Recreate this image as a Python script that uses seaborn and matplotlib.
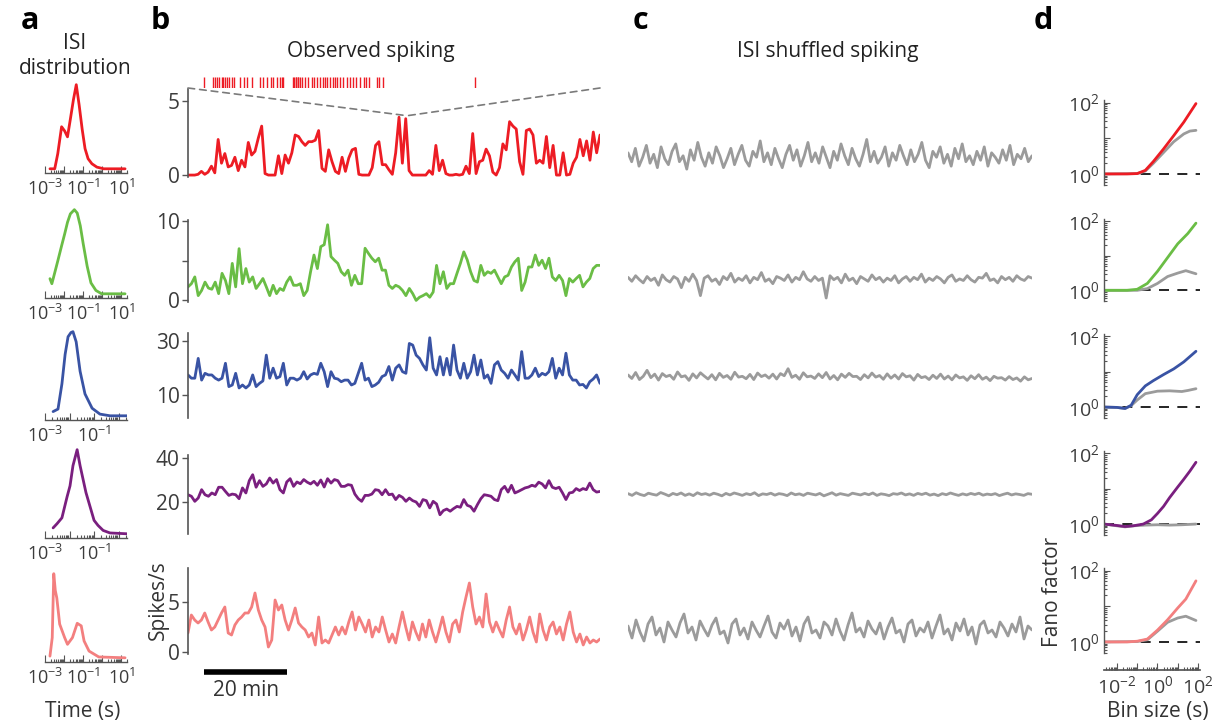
import numpy as np
import matplotlib
matplotlib.use('Agg')
import matplotlib.pyplot as plt
import seaborn as sns
from matplotlib.patches import ConnectionPatch
from matplotlib.ticker import LogLocator, NullFormatter, NullLocator

# ---------------- data ----------------
# panel b: observed firing rate (spikes/s), evenly sampled over ~100 min
obs_red = [0.0, 0.0, 0.0, 0.05, 0.25, 0.05, 0.2, 0.6, 0.15, 2.4,
           0.8, 1.45, 0.55, 0.65, 1.2, 0.3, 1.0, 0.55, 2.2, 1.35,
           1.6, 2.5, 3.3, 0.1, 0.0, 0.0, 0.0, 1.3, 0.1, 1.35,
           0.8, 1.5, 2.7, 2.6, 2.25, 2.0, 2.25, 2.25, 2.35, 3.0,
           0.45, 0.25, 1.7, 0.9, 0.25, 0.1, 1.2, 0.25, 1.15, 1.7,
           1.8, 0.05, 0.0, 0.0, 0.0, 0.5, 2.0, 2.25, 0.7, 0.7,
           0.35, 0.05, 1.5, 3.9, 0.8, 3.8, 0.3, 0.0, 0.0, 0.0,
           0.0, 0.0, 0.3, 0.05, 2.0, 0.3, 1.0, 0.1, 0.0, 0.0,
           0.05, 0.0, 0.05, 0.6, 0.1, 2.8, 0.1, 0.9, 1.0, 1.75,
           1.3, 0.2, 0.0, 0.5, 2.1, 1.7, 3.6, 3.3, 3.1, 0.9,
           0.05, 3.0, 3.1, 2.7, 0.8, 1.0, 0.8, 2.6, 0.5, 2.0,
           0.0, 0.0, 1.5, 0.0, 0.05, 0.8, 1.2, 2.4, 1.3, 2.3,
           1.0, 2.9, 1.5, 2.7]
obs_green = [1.7, 2.1, 2.95, 0.6, 1.25, 2.3, 1.55, 1.4, 2.3, 0.85,
             3.4, 2.5, 0.85, 4.65, 1.7, 6.5, 2.1, 4.0, 2.3, 2.95,
             1.5, 2.1, 2.75, 1.7, 0.6, 1.9, 0.85, 1.5, 1.25, 2.3,
             2.95, 1.9, 1.9, 2.1, 0.6, 1.25, 3.6, 5.7, 4.0, 6.75,
             7.0, 9.5, 5.5, 5.05, 4.65, 3.6, 3.15, 3.8, 1.9, 3.15,
             2.1, 2.1, 6.55, 5.9, 5.3, 4.85, 5.3, 3.8, 3.8, 1.9,
             1.5, 1.9, 1.7, 1.25, 0.6, 1.5, 0.85, 0.0, 0.4, 0.6,
             0.85, 0.4, 1.05, 4.4, 2.1, 3.6, 1.5, 2.1, 2.1, 3.4,
             4.65, 6.1, 5.1, 3.6, 2.5, 2.3, 4.4, 3.15, 3.6, 3.4,
             3.8, 2.95, 2.1, 2.95, 3.15, 4.2, 4.85, 5.3, 1.25, 2.3,
             4.2, 4.2, 5.7, 4.4, 5.05, 4.0, 5.3, 2.95, 2.5, 3.15,
             2.5, 0.6, 2.75, 2.3, 2.75, 3.15, 1.7, 2.3, 2.75, 4.0,
             4.4, 4.4]
obs_blue = [17.5, 16.3, 16.3, 23.6, 15.6, 18.1, 17.5, 17.5, 16.3, 15.6,
            16.3, 21.8, 13.2, 13.8, 18.1, 12.7, 13.8, 12.7, 13.8, 17.5,
            13.2, 14.4, 15.3, 24.8, 16.3, 20.0, 16.3, 16.9, 21.8, 13.8,
            16.3, 16.3, 15.6, 16.3, 18.7, 16.0, 17.5, 18.1, 17.7, 21.8,
            18.7, 13.2, 18.7, 16.3, 16.0, 15.0, 15.6, 15.6, 13.8, 14.4,
            18.1, 21.8, 15.6, 16.3, 13.2, 13.8, 14.8, 16.9, 17.5, 20.6,
            15.6, 20.0, 21.2, 18.7, 18.1, 29.1, 28.5, 24.8, 23.6, 21.2,
            19.3, 31.2, 20.0, 17.5, 24.2, 17.5, 23.6, 17.5, 28.5, 19.3,
            16.3, 21.8, 16.3, 18.7, 24.8, 17.5, 23.0, 16.3, 17.5, 14.4,
            21.2, 22.4, 19.3, 18.1, 16.3, 19.3, 17.5, 15.6, 26.1, 16.3,
            16.3, 17.5, 20.0, 16.9, 18.1, 17.5, 18.7, 23.6, 16.3, 20.0,
            17.5, 25.5, 17.5, 15.6, 15.6, 13.8, 14.0, 12.7, 15.0, 16.0,
            17.5, 14.4]
obs_purple = [23.3, 22.6, 20.3, 21.8, 25.6, 23.3, 22.6, 24.1, 23.3, 26.7,
              26.7, 24.8, 23.0, 23.6, 23.3, 21.5, 26.4, 24.1, 29.7, 32.4,
              26.7, 29.7, 27.1, 28.2, 30.9, 28.6, 30.2, 25.6, 24.1, 29.1,
              30.6, 27.1, 29.1, 28.3, 30.2, 29.0, 28.2, 29.4, 27.6, 30.0,
              26.8, 30.6, 28.6, 30.2, 29.7, 27.1, 27.1, 27.9, 27.6, 23.6,
              21.5, 20.3, 23.0, 23.0, 23.6, 25.6, 25.3, 23.3, 25.6, 23.3,
              23.6, 21.1, 23.0, 22.1, 20.3, 21.8, 20.6, 20.0, 18.0, 21.1,
              20.6, 17.3, 20.3, 19.1, 14.2, 16.1, 16.8, 15.8, 17.0, 18.0,
              17.6, 21.1, 18.5, 17.9, 15.8, 18.8, 21.5, 23.3, 23.0, 22.6,
              21.1, 20.6, 25.6, 27.1, 24.5, 27.6, 24.1, 24.8, 25.6, 26.4,
              26.8, 27.6, 27.1, 29.0, 28.2, 26.4, 29.7, 26.7, 26.1, 26.7,
              24.1, 21.1, 24.1, 24.4, 26.1, 25.2, 26.1, 25.6, 28.6, 25.6,
              24.5, 24.8]
obs_pink = [1.9, 3.7, 3.2, 2.9, 3.2, 3.9, 3.0, 2.2, 2.5, 3.2,
            3.9, 4.5, 1.9, 1.7, 2.7, 3.2, 3.5, 3.9, 3.9, 4.5,
            5.9, 4.2, 3.2, 2.5, 0.5, 1.2, 5.2, 4.2, 4.7, 3.2,
            2.2, 3.2, 4.4, 2.9, 2.5, 2.2, 1.5, 1.9, 0.7, 3.5,
            0.9, 1.2, 0.9, 1.7, 2.5, 1.7,
            2.5, 1.8, 3.0, 4.0, 2.2, 3.5, 2.8, 2.0, 3.2, 1.5,
            2.5, 2.0, 3.5, 2.2, 1.0, 1.8, 0.9, 2.5, 4.0, 2.5,
            1.2, 3.0, 2.0, 1.2, 2.8, 1.5, 3.2, 2.0, 1.0, 2.2,
            3.5, 2.0, 1.0, 2.8, 3.2, 2.0, 4.0, 5.5, 6.9, 4.5,
            2.8, 3.5, 2.5, 5.8, 3.0, 2.0, 3.0, 2.2, 1.5, 3.2,
            4.5, 2.5, 1.8, 2.8, 1.2, 2.2, 3.5, 2.0, 1.0, 3.8,
            2.2, 1.2, 2.5, 3.0, 1.8, 2.5, 1.2, 2.8, 4.0, 2.0,
            1.0, 1.8, 0.7, 1.5, 0.9, 1.2, 1.0, 1.3]

# panel c: ISI shuffled firing rate (spikes/s)
shuf_1 = [1.5, 0.9, 1.8, 0.6, 1.2, 2.0, 0.8, 1.4, 0.5, 1.9, 1.1, 0.7, 1.6, 2.1, 0.9, 1.3,
          0.4, 1.7, 1.0, 2.2, 1.2, 0.6, 1.5, 0.8, 1.9, 1.3, 0.5, 1.1, 1.8, 0.7, 1.4, 2.0,
          1.0, 0.6, 1.6, 1.2, 2.3, 0.9, 1.5, 0.7, 1.8, 1.1, 0.5, 1.4, 2.0, 1.0, 1.7, 0.6,
          1.3, 2.2, 0.9, 1.5, 0.8, 1.9, 1.2, 0.5, 1.6, 1.0, 2.1, 1.3, 0.7, 1.8, 1.1, 0.6,
          1.4, 2.4, 0.9, 1.6, 0.8, 1.2, 1.9, 0.6, 1.5, 1.0, 2.0, 1.3, 0.7, 1.7, 0.9, 1.4,
          2.2, 1.0, 0.5, 1.6, 1.2, 1.9, 0.8, 1.4, 0.6, 1.8, 1.1, 2.1, 0.9, 1.3, 0.7, 1.6,
          1.0, 1.9, 0.6, 1.5, 1.2, 0.8, 1.7, 1.0, 2.0, 0.7, 1.4, 1.1, 1.8, 0.9, 1.3]
shuf_2 = [2.9, 2.4, 3.1, 2.6, 2.2, 3.0, 2.5, 2.8, 1.9, 3.2, 2.6, 2.3, 3.0, 2.7, 1.6, 2.9,
          2.4, 3.3, 2.5, 0.6, 2.8, 3.1, 2.4, 2.7, 2.0, 3.0, 2.6, 3.4, 2.3, 2.8, 2.5, 3.1,
          2.2, 2.9, 2.6, 3.5, 2.4, 2.7, 2.1, 3.0, 2.8, 2.5, 3.2, 2.3, 2.9, 2.6, 3.6, 2.7,
          2.4, 3.0, 2.5, 2.8, 0.3, 3.1, 2.6, 2.9, 2.2, 3.3, 2.5, 2.8, 2.1, 3.0, 2.7, 2.4,
          3.2, 2.6, 2.9, 2.3, 2.8, 2.5, 3.1, 2.2, 2.7, 3.0, 2.4, 2.9, 2.6, 3.3, 2.3, 2.8,
          2.5, 3.0, 2.7, 2.2, 2.9, 3.2, 2.4, 2.7, 2.5, 3.1, 2.6, 2.3, 2.9, 2.8, 3.4, 2.5,
          2.7, 2.2, 3.0, 2.6, 2.9, 2.4, 3.1, 2.7, 2.5, 3.0, 2.8]
shuf_3 = [17.5, 16.2, 18.4, 15.8, 17.0, 19.2, 16.5, 17.8, 15.6, 18.0, 16.9, 17.4, 15.9, 18.6,
          16.8, 17.2, 15.5, 17.9, 16.4, 18.3, 17.1, 16.0, 17.6, 15.7, 18.1, 16.6, 17.3, 15.9,
          18.5, 16.7, 17.0, 16.1, 17.7, 15.8, 18.2, 16.9, 17.5, 16.3, 17.8, 16.0, 18.0, 17.2,
          19.8, 16.6, 17.4, 15.9, 18.3, 16.8, 17.1, 16.2, 17.9, 16.5, 18.4, 16.0, 17.3, 15.7,
          17.8, 16.6, 18.1, 16.9, 17.0, 15.8, 17.6, 16.4, 18.2, 16.7, 17.3, 15.9, 17.9, 16.3,
          17.5, 16.0, 18.0, 16.8, 17.2, 15.6, 17.7, 16.5, 16.9, 15.8, 17.4, 16.2, 17.8, 16.0,
          17.1, 15.7, 17.5, 16.4, 16.8, 15.5, 17.2, 16.1, 17.6, 15.9, 16.7, 15.4, 17.0, 16.3,
          16.5, 15.6, 16.9, 15.8, 16.4, 15.2, 16.8, 15.7, 16.2]
shuf_4 = [23.8, 23.0, 24.2, 23.4, 22.9, 24.0, 23.5, 23.1, 24.3, 23.6, 22.8, 23.9, 23.3, 24.1,
          23.0, 23.7, 22.9, 24.2, 23.4, 23.8, 23.1, 24.0, 23.5, 22.8, 23.9, 23.2, 24.1, 23.6,
          23.0, 23.8, 23.3, 24.2, 22.9, 23.7, 23.4, 24.0, 23.1, 23.8, 23.5, 22.9, 24.1, 23.3,
          23.7, 23.0, 24.0, 23.6, 23.2, 23.9, 22.8, 23.5, 24.2, 23.1, 23.8, 23.4, 23.0, 24.0,
          23.6, 23.2, 23.9, 23.3, 24.1, 23.0, 23.7, 23.4, 22.9, 23.8, 23.5, 24.1, 23.2, 23.7,
          23.0, 23.9, 23.4, 24.0, 23.1, 23.6, 22.9, 23.8, 23.3, 24.1, 23.5, 23.0, 23.7, 23.2,
          23.9, 23.4, 24.0, 23.1, 23.6, 23.3, 23.8, 22.9, 23.5, 24.0, 23.2, 23.7, 23.4, 23.0,
          23.8, 23.5]
shuf_5 = [2.6, 1.4, 3.2, 2.0, 1.1, 2.8, 3.5, 1.7, 2.4, 1.0, 3.0, 2.2, 1.5, 2.9, 3.8, 1.9,
          2.5, 1.2, 3.1, 2.3, 1.6, 2.7, 3.4, 1.8, 2.1, 0.9, 2.8, 3.3, 1.7, 2.4, 1.3, 3.0,
          2.2, 1.5, 2.6, 3.6, 2.0, 1.4, 2.9, 2.3, 3.2, 1.6, 2.5, 1.1, 2.8, 3.5, 1.9, 2.2,
          1.4, 3.0, 2.6, 1.7, 3.3, 2.1, 1.2, 2.7, 3.9, 2.0, 2.4, 1.5, 3.1, 2.3, 1.8, 2.9,
          1.3, 2.5, 3.4, 1.9, 2.2, 1.0, 2.8, 3.2, 1.6, 2.4, 2.0, 3.0, 1.4, 2.6, 3.7, 1.8,
          2.3, 1.2, 2.9, 2.1, 3.3, 1.7, 2.5, 0.8, 2.7, 3.1, 1.9, 2.2, 1.5, 3.0, 2.4, 1.6,
          2.8, 2.0, 3.5, 1.3, 2.6, 2.2]

# spike raster above the red trace (s, within a 10 s window)
raster_times = [0.40, 0.61, 0.66, 0.70, 0.76, 0.82, 0.86, 0.90, 0.95, 1.00, 1.06, 1.12,
                1.25, 1.36, 1.44, 1.55, 1.75, 1.81, 1.91, 2.01, 2.07, 2.15, 2.23, 2.27,
                2.31, 2.56, 2.58, 2.61, 2.63, 2.66, 2.68, 2.71, 2.76, 2.84, 2.92, 3.00,
                3.06, 3.12, 3.20, 3.27, 3.32, 3.38, 3.45, 3.51, 3.57, 3.62, 3.69, 3.75,
                3.85, 3.92, 4.00, 4.08, 4.17, 4.27, 4.33, 4.39, 4.59, 4.64, 4.73, 6.97]
zoom_t, zoom_rate = 53.2, 4.0   # where the raster window sits in the red trace

# panel a: ISI distributions (log10 interval in s, normalised density)
isi_logt = [
    [-2.74, -2.49, -2.33, -2.13, -1.97, -1.82, -1.67, -1.51, -1.36, -1.21, -1.05, -0.9, -0.74, -0.54, -0.28, 0.08, 1.2],
    [-2.74, -2.64, -2.49, -2.33, -2.13, -1.97, -1.82, -1.67, -1.46, -1.31, -1.15, -1.0, -0.79, -0.59, -0.33, -0.03, 1.2],
    [-2.67, -2.47, -2.31, -2.18, -2.06, -1.94, -1.86, -1.73, -1.57, -1.37, -1.08, -0.76, -0.35, 0.35],
    [-2.67, -2.51, -2.31, -2.1, -1.98, -1.86, -1.69, -1.57, -1.45, -1.33, -1.16, -1.0, -0.84, -0.63, -0.35, 0.35],
    [-2.74, -2.62, -2.54, -2.46, -2.38, -2.23, -1.97, -1.82, -1.56, -1.31, -1.1, -0.95, -0.69, -0.18, 1.2],
]
isi_density = [
    [0.0, 0.0, 0.18, 0.5, 0.45, 0.38, 0.59, 0.82, 1.0, 0.76, 0.47, 0.24, 0.12, 0.06, 0.02, 0.0, 0.0],
    [0.18, 0.12, 0.25, 0.39, 0.57, 0.71, 0.85, 0.95, 1.0, 0.96, 0.81, 0.6, 0.33, 0.13, 0.04, 0.0, 0.0],
    [0.05, 0.08, 0.38, 0.73, 0.94, 0.99, 1.0, 0.88, 0.53, 0.26, 0.09, 0.02, 0.0, 0.0],
    [0.07, 0.12, 0.19, 0.44, 0.57, 0.81, 1.0, 0.81, 0.65, 0.49, 0.32, 0.16, 0.1, 0.04, 0.01, 0.0],
    [0.02, 0.24, 1.0, 0.8, 0.71, 0.4, 0.24, 0.16, 0.24, 0.41, 0.38, 0.2, 0.08, 0.01, 0.0],
]
isi_xmax = [20, 20, 2.2, 2.2, 20]

# panel d: Fano factor vs bin size (log10 bin size, log10 Fano factor)
fano_obs_logbin = [
    [-2.64, -1.5, -1.0, -0.6, -0.2, 0.3, 0.8, 1.3, 1.9],
    [-2.64, -1.5, -1.0, -0.5, 0.0, 0.5, 1.0, 1.5, 1.9],
    [-2.64, -2.0, -1.6, -1.3, -1.0, -0.6, -0.2, 0.3, 0.8, 1.3, 1.9],
    [-2.64, -2.0, -1.6, -1.2, -0.7, -0.3, 0.0, 0.3, 0.6, 1.0, 1.3, 1.6, 1.9],
    [-2.64, -1.5, -1.0, -0.5, 0.0, 0.5, 1.0, 1.4, 1.9],
]
fano_obs_logff = [
    [0.0, 0.0, 0.01, 0.1, 0.35, 0.7, 1.07, 1.45, 1.97],
    [0.0, 0.0, 0.03, 0.2, 0.55, 0.95, 1.35, 1.65, 1.95],
    [0.0, -0.01, -0.04, 0.05, 0.35, 0.6, 0.75, 0.92, 1.08, 1.28, 1.58],
    [0.0, -0.04, -0.07, -0.05, 0.0, 0.12, 0.3, 0.5, 0.75, 1.05, 1.27, 1.5, 1.75],
    [0.0, 0.0, 0.02, 0.08, 0.33, 0.62, 0.95, 1.2, 1.71],
]
fano_shuf_logbin = [
    [-2.64, -1.0, -0.6, -0.2, 0.3, 0.8, 1.3, 1.6, 1.9],
    [-2.64, -1.0, -0.5, 0.0, 0.5, 1.0, 1.4, 1.9],
    [-2.64, -2.0, -1.6, -1.3, -1.0, -0.6, 0.0, 0.6, 1.2, 1.5, 1.9],
    [-2.64, -2.0, -1.6, -1.2, -0.6, 0.0, 0.6, 1.2, 1.9],
    [-2.64, -1.0, -0.5, 0.0, 0.5, 1.0, 1.4, 1.9],
]
fano_shuf_logff = [
    [0.0, 0.01, 0.08, 0.3, 0.6, 0.9, 1.12, 1.2, 1.22],
    [0.0, 0.0, 0.05, 0.2, 0.4, 0.5, 0.57, 0.48],
    [0.0, -0.01, -0.04, 0.04, 0.2, 0.38, 0.45, 0.46, 0.44, 0.47, 0.52],
    [0.0, -0.05, -0.08, -0.05, -0.03, -0.02, -0.03, -0.02, 0.0],
    [0.0, 0.01, 0.06, 0.3, 0.55, 0.67, 0.72, 0.6],
]

colors = ['#ed1c24', '#6abd45', '#3953a4', '#7a1f7f', '#f37f7f']
shuf_gray = '#9b9b9b'
observed = [obs_red, obs_green, obs_blue, obs_purple, obs_pink]
shuffled = [shuf_1, shuf_2, shuf_3, shuf_4, shuf_5]

# ---------------- style ----------------
sns.set_theme(style='white')
plt.rcParams['font.family'] = ['Open Sans', 'DejaVu Sans']
plt.rcParams['mathtext.fontset'] = 'custom'
plt.rcParams['mathtext.rm'] = 'Open Sans'
plt.rcParams['mathtext.it'] = 'Open Sans:italic'
plt.rcParams['mathtext.bf'] = 'Open Sans:bold'
tick_col = '#3c3c3c'
spine_col = '#555555'

W, H = 1221, 727
fig = plt.figure(figsize=(W / 100, H / 100), dpi=100)


def add_ax(left, top, right, bottom):
    ax = fig.add_axes([left / W, 1 - bottom / H, (right - left) / W, (bottom - top) / H])
    ax.patch.set_alpha(0)
    for s in ax.spines.values():
        s.set_visible(False)
    return ax


def log_label(v):
    return '$10^{%d}$' % int(round(np.log10(v)))


# ---------------- panel a: ISI distributions ----------------
isi_bottoms = [173, 298, 420, 538, 662]
for i in range(5):
    ax = add_ax(45, isi_bottoms[i] - 90, 127, isi_bottoms[i])
    ax.set_xscale('log')
    sns.lineplot(x=10 ** np.array(isi_logt[i]), y=isi_density[i], ax=ax,
                 color=colors[i], linewidth=2, sort=False)
    ax.set_xlim(1e-3, isi_xmax[i])
    ax.set_ylim(-0.05, 1.02)
    ax.spines['bottom'].set_visible(True)
    ax.spines['bottom'].set_color(spine_col)
    ax.spines['bottom'].set_linewidth(1)
    decades = [d for d in [1e-3, 1e-2, 1e-1, 1, 10] if d <= isi_xmax[i]]
    labels = [log_label(d) if d in (1e-3, 1e-1, 10) else '' for d in decades]
    ax.set_xticks(decades, labels=labels)
    ax.xaxis.set_minor_locator(LogLocator(base=10, subs=np.arange(2, 10), numticks=20))
    ax.xaxis.set_minor_formatter(NullFormatter())
    ax.tick_params(axis='x', which='both', direction='in', bottom=True, colors=spine_col,
                   labelcolor=tick_col, labelsize=13, pad=4, width=0.8)
    ax.tick_params(axis='x', which='major', length=5)
    ax.tick_params(axis='x', which='minor', length=2.5)
    ax.set_yticks([])
    ax.set(xlabel='', ylabel='')

# ---------------- panel b: observed spiking ----------------
obs_rows = [(89, 177), (220, 302), (333, 418), (455, 534), (568, 654)]
obs_ylims = [(-0.13, 5.8), (-0.2, 10.1), (1.64, 32.95), (5.45, 41.36), (-0.2, 8.4)]
obs_ticks = [[0, 5], [0, 5, 10], [10, 30], [20, 40], [0, 5]]
obs_ticklabels = [['0', '5'], ['0', '', '10'], ['10', '30'], ['20', '40'], ['0', '5']]
obs_axes = []
for i in range(5):
    top, bottom = obs_rows[i]
    ax = add_ax(188, top, 600, bottom)
    t = np.linspace(0, 100, len(observed[i]))
    sns.lineplot(x=t, y=observed[i], ax=ax, color=colors[i], linewidth=2, sort=False)
    ax.set_xlim(0, 100)
    ax.set_ylim(*obs_ylims[i])
    ax.spines['left'].set_visible(True)
    ax.spines['left'].set_color(spine_col)
    ax.spines['left'].set_linewidth(1.2)
    ax.set_xticks([])
    ax.set_yticks(obs_ticks[i], labels=obs_ticklabels[i])
    ax.tick_params(axis='y', direction='out', left=True, length=4, width=1, colors=spine_col,
                   labelcolor=tick_col, labelsize=15, pad=2)
    ax.set(xlabel='', ylabel='')
    obs_axes.append(ax)

# raster and zoom lines
rax = add_ax(188, 77, 600, 88)
rax.vlines(raster_times, 0, 1, color=colors[0], linewidth=1)
rax.set_xlim(0, 10)
rax.set_ylim(0, 1)
rax.set_xticks([])
rax.set_yticks([])
for corner in [(0, 0), (1, 0)]:
    con = ConnectionPatch(xyA=corner, coordsA='axes fraction', axesA=rax,
                          xyB=(zoom_t, zoom_rate), coordsB='data', axesB=obs_axes[0],
                          linestyle=(0, (4, 3)), color='#7a7a7a', linewidth=1.2)
    fig.add_artist(con)

# scale bar (20 min)
scale_start, scale_len = 4, 20
pax = obs_axes[4]
pax.plot([scale_start, scale_start + scale_len], [-2.0, -2.0], color='black', linewidth=4,
         solid_capstyle='butt', clip_on=False)
pax.text(scale_start + scale_len / 2, -3.8, '20 min', ha='center', va='center',
         fontsize=15, color='#333333')

# ---------------- panel c: shuffled spiking ----------------
for i in range(5):
    top, bottom = obs_rows[i]
    ax = add_ax(628, top, 1032, bottom)
    t = np.linspace(0, 100, len(shuffled[i]))
    sns.lineplot(x=t, y=shuffled[i], ax=ax, color=shuf_gray, linewidth=2, sort=False)
    ax.set_xlim(0, 100)
    ax.set_ylim(*obs_ylims[i])
    ax.set_xticks([])
    ax.set_yticks([])
    ax.set(xlabel='', ylabel='')

# ---------------- panel d: Fano factor ----------------
fano_rows = [(100, 185), (219, 301), (334, 418), (451, 535), (568, 653)]
for i in range(5):
    top, bottom = fano_rows[i]
    ax = add_ax(1104, top, 1200, bottom)
    ax.set_xscale('log')
    ax.set_yscale('log')
    ax.axhline(1, color='black', linestyle=(0, (6, 5)), linewidth=1.2)
    sns.lineplot(x=10 ** np.array(fano_shuf_logbin[i]), y=10 ** np.array(fano_shuf_logff[i]),
                 ax=ax, color=shuf_gray, linewidth=2, sort=False)
    sns.lineplot(x=10 ** np.array(fano_obs_logbin[i]), y=10 ** np.array(fano_obs_logff[i]),
                 ax=ax, color=colors[i], linewidth=2, sort=False)
    ax.set_xlim(10 ** -2.64, 10 ** 2.1)
    ax.set_ylim(10 ** -0.31, 10 ** 2.07)
    ax.spines['left'].set_visible(True)
    ax.spines['left'].set_color(spine_col)
    ax.spines['left'].set_linewidth(1)
    ax.set_yticks([1, 10, 100], labels=['$10^{0}$', '', '$10^{2}$'])
    ax.yaxis.set_minor_locator(LogLocator(base=10, subs=np.arange(2, 10), numticks=20))
    ax.yaxis.set_minor_formatter(NullFormatter())
    ax.tick_params(axis='y', which='both', direction='in', left=True, colors=spine_col,
                   labelcolor=tick_col, labelsize=14, pad=3, width=0.8)
    ax.tick_params(axis='y', which='major', length=4)
    ax.tick_params(axis='y', which='minor', length=2)
    if i == 4:
        ax.spines['bottom'].set_visible(True)
        ax.spines['bottom'].set_position(('outward', 12))
        ax.spines['bottom'].set_color(spine_col)
        ax.set_xticks([1e-2, 1e-1, 1, 10, 100], labels=['$10^{-2}$', '', '$10^{0}$', '', '$10^{2}$'])
        ax.xaxis.set_minor_locator(LogLocator(base=10, subs=np.arange(2, 10), numticks=20))
        ax.xaxis.set_minor_formatter(NullFormatter())
        ax.tick_params(axis='x', which='both', direction='in', bottom=True, colors=spine_col,
                       labelcolor=tick_col, labelsize=14, pad=4, width=0.8)
        ax.tick_params(axis='x', which='major', length=5)
        ax.tick_params(axis='x', which='minor', length=2.5)
    else:
        ax.xaxis.set_major_locator(NullLocator())
        ax.xaxis.set_minor_locator(NullLocator())
        ax.tick_params(axis='x', which='both', bottom=False, labelbottom=False)
    ax.set(xlabel='', ylabel='')

# ---------------- text ----------------
def ftext(x, y, s, **kw):
    fig.text(x / W, 1 - y / H, s, ha='center', va='center', **kw)


for letter, x in zip('abcd', [30, 160, 640, 1043]):
    ftext(x, 21, letter, fontsize=22, fontweight='bold', color='black')
ftext(75, 56, 'ISI\ndistribution', fontsize=15, color='#222222', linespacing=1.25)
ftext(371, 52, 'Observed spiking', fontsize=15, color='#222222')
ftext(828, 52, 'ISI shuffled spiking', fontsize=15, color='#222222')
ftext(83, 712, 'Time (s)', fontsize=15, color='#333333')
ftext(1158, 712, 'Bin size (s)', fontsize=15, color='#333333')
ftext(158, 600, 'Spikes/s', fontsize=15, color='#333333', rotation=90)
ftext(1053, 592, 'Fano factor', fontsize=15, color='#333333', rotation=90)

fig.savefig('out.png', dpi=100, facecolor='white')
